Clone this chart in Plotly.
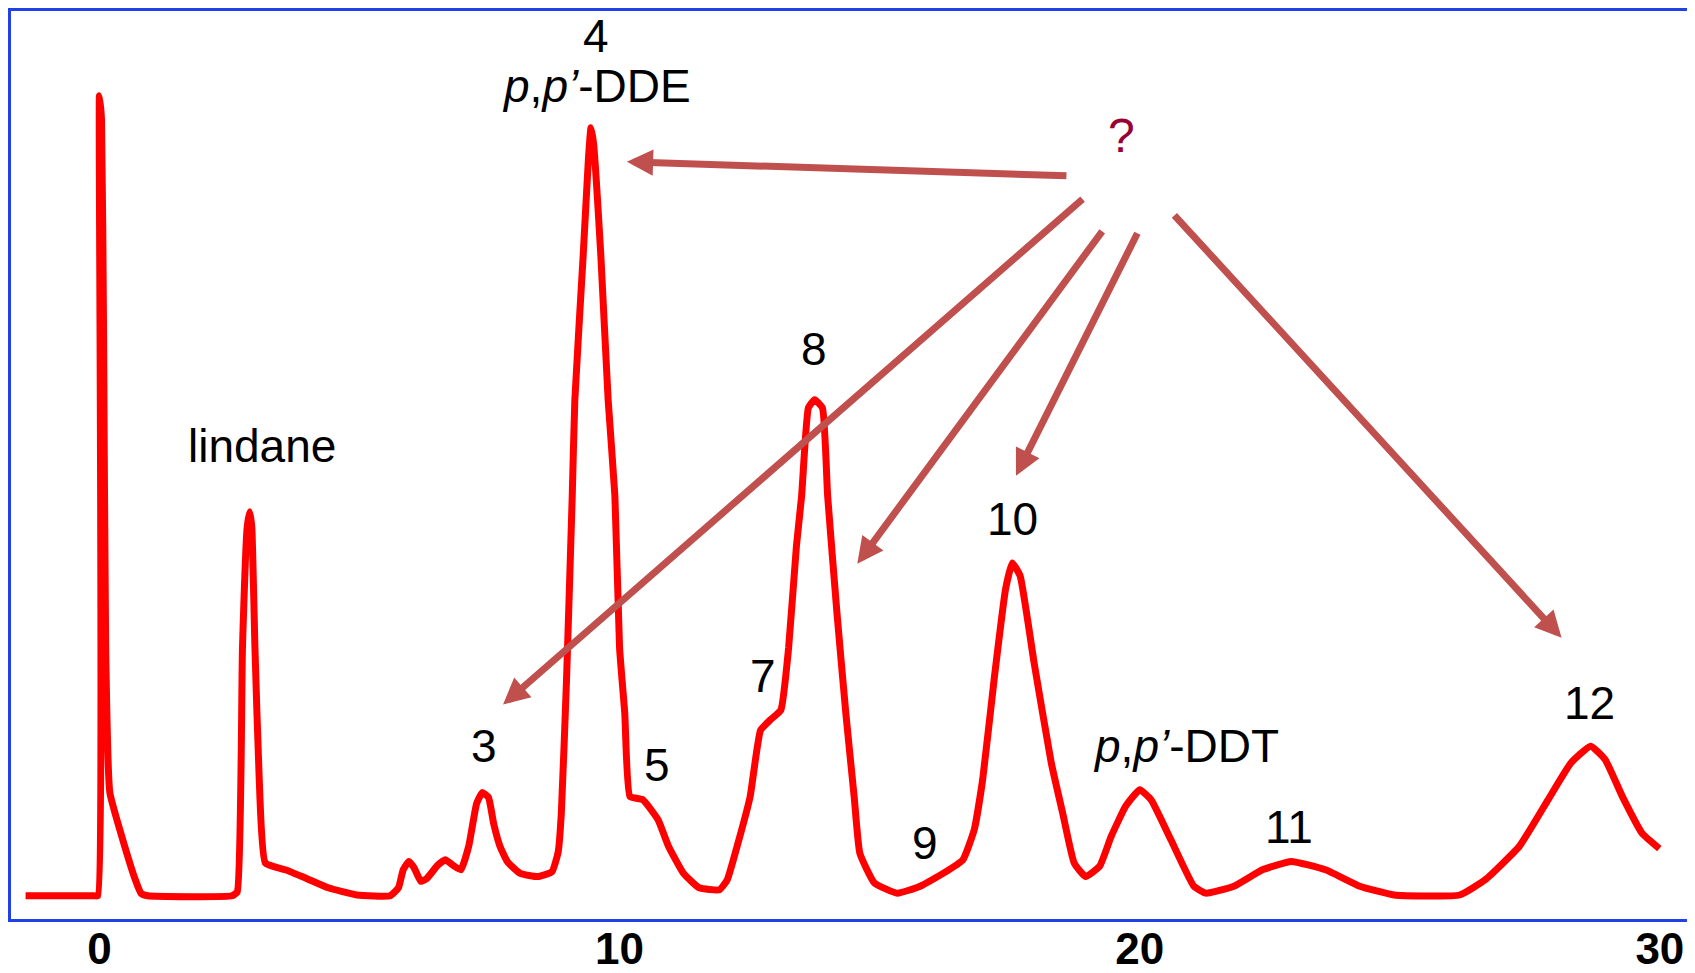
import plotly.graph_objects as go

# Retention time (min) and detector response (relative units)
time = [-1.42, -0.10, -0.03, 0.00, 0.04, 0.08, 0.12, 0.20, 0.49, 0.69, 0.80, 0.93,
        2.55, 2.65, 2.75, 2.84, 2.89, 2.93, 2.99, 3.07, 3.19, 3.60, 3.97, 4.40, 4.95,
        5.59, 5.75, 5.84, 5.95, 6.05, 6.18, 6.30, 6.50, 6.65, 6.80, 6.95, 7.10, 7.25,
        7.36, 7.48, 7.58, 7.70, 7.85, 8.09, 8.43, 8.70, 8.82, 8.88, 8.98, 9.09, 9.14,
        9.30, 9.40, 9.45, 9.50, 9.64, 9.78, 9.91, 10.00, 10.10, 10.20, 10.45, 10.74,
        10.94, 11.23, 11.53, 11.92, 12.07, 12.26, 12.51, 12.71, 12.90, 13.10, 13.25,
        13.40, 13.50, 13.63, 13.75, 13.90, 14.00, 14.18, 14.35, 14.51, 14.62, 14.90,
        15.34, 15.78, 16.22, 16.60, 16.82, 16.98, 17.20, 17.42, 17.55, 17.70, 17.97,
        18.30, 18.52, 18.74, 18.96, 19.23, 19.45, 19.73, 20.00, 20.22, 20.60, 21.04,
        21.27, 21.81, 22.36, 22.91, 23.57, 24.23, 24.89, 26.15, 26.64, 27.30, 27.85,
        28.29, 28.67, 28.95, 29.28, 29.66, 29.99]
response = [0.0, 0.0, 0.0, 100.0, 97.0, 70.0, 31.0, 12.9, 6.1, 2.0, 0.3, 0.0,
            0.0, 0.5, 31.0, 46.0, 48.0, 46.0, 31.0, 15.0, 4.1, 3.2, 2.2, 1.0, 0.1,
            0.0, 1.0, 3.25, 4.3, 3.5, 1.8, 2.2, 3.8, 4.5, 3.8, 3.25, 6.2, 11.5,
            12.9, 12.3, 9.0, 6.2, 4.2, 2.8, 2.4, 3.0, 5.5, 10.3, 27.0, 50.0, 62.0,
            80.0, 92.0, 96.0, 94.0, 80.0, 62.0, 50.0, 31.0, 22.8, 12.4, 12.0, 9.5,
            6.2, 2.8, 1.0, 0.75, 2.0, 6.2, 12.4, 20.7, 22.0, 23.2, 31.0,
            43.7, 50.0, 61.0, 62.0, 61.0, 50.0, 35.3, 22.8, 12.4, 5.3, 1.6,
            0.33, 1.2, 2.8, 4.5, 8.3, 14.5, 27.0, 38.3, 41.6, 40.0, 29.1,
            16.6, 10.3, 4.1, 2.4, 3.7, 7.4, 11.2, 13.25, 12.0, 7.0, 1.2,
            0.33, 1.2, 3.25, 4.3, 3.25, 1.2, 0.1, 0.1, 2.0, 6.2, 12.0,
            16.6, 18.7, 17.0, 12.4, 7.8, 5.9]

# Peak labels
label_text = ["4", "<i>p</i>,<i>p’</i>-DDE", "lindane", "3", "5", "7", "8", "9",
              "10", "<i>p</i>,<i>p’</i>-DDT", "11", "12"]
label_x = [9.55, 9.55, 3.13, 7.39, 10.72, 12.76, 13.74, 15.87, 17.55, 20.89, 22.87, 28.64]
label_y = [107.5, 101.25, 56.25, 18.75, 16.4, 27.5, 68.4, 6.6, 47.1, 18.75, 8.6, 24.1]

# "?" marker and arrows (tail -> head)
q_text = "?"
q_x, q_y = 19.64, 95.1
arrow_tail_x = [18.62, 18.93, 19.30, 19.97, 20.64]
arrow_tail_y = [90.0, 87.25, 83.25, 83.0, 85.25]
arrow_head_x = [10.14, 7.76, 14.57, 17.62, 28.11]
arrow_head_y = [91.75, 23.9, 41.5, 52.5, 32.25]

x_ticks = [0, 10, 20, 30]

FONT = "Liberation Sans, Arial, Helvetica, sans-serif"

fig = go.Figure()
fig.add_trace(go.Scatter(x=time, y=response, mode="lines",
                         line=dict(color="#ff0000", width=7, shape="spline", smoothing=0.4),
                         hoverinfo="skip", showlegend=False))

annotations = []
for t, x, y in zip(label_text, label_x, label_y):
    annotations.append(dict(x=x, y=y, xref="x", yref="y", text=t, showarrow=False,
                            xanchor="center", yanchor="middle",
                            font=dict(family=FONT, size=46, color="#000000")))
annotations.append(dict(x=q_x, y=q_y, xref="x", yref="y", text=q_text, showarrow=False,
                        xanchor="center", yanchor="middle",
                        font=dict(family=FONT, size=48, color="#990033")))
for tx, ty, hx, hy in zip(arrow_tail_x, arrow_tail_y, arrow_head_x, arrow_head_y):
    annotations.append(dict(x=hx, y=hy, ax=tx, ay=ty, xref="x", yref="y",
                            axref="x", ayref="y", text="", showarrow=True,
                            arrowhead=2, arrowsize=0.75, arrowwidth=7,
                            arrowcolor="#c0504d", standoff=0, startstandoff=0))

# The page body adds an 8 px offset, so the figure is 8 px smaller than the window
fig.update_layout(
    width=1687, height=965,
    margin=dict(l=3, r=6, t=3, b=54),
    paper_bgcolor="white", plot_bgcolor="white",
    annotations=annotations,
    xaxis=dict(range=[-1.70, 30.56], tickvals=x_ticks,
               ticktext=[f"<b>{v}</b>" for v in x_ticks],
               tickfont=dict(family=FONT, size=44, color="#000000"),
               ticklabelstandoff=-11,
               showgrid=False, zeroline=False, ticks="",
               showline=True, mirror=True, linecolor="#2040e8", linewidth=2.5,
               automargin=False, fixedrange=True),
    yaxis=dict(range=[-2.9, 110.6], showticklabels=False, showgrid=False,
               zeroline=False, ticks="", showline=True, mirror=True,
               linecolor="#2040e8", linewidth=2.5, automargin=False, fixedrange=True),
)

fig.write_html("out.html")
